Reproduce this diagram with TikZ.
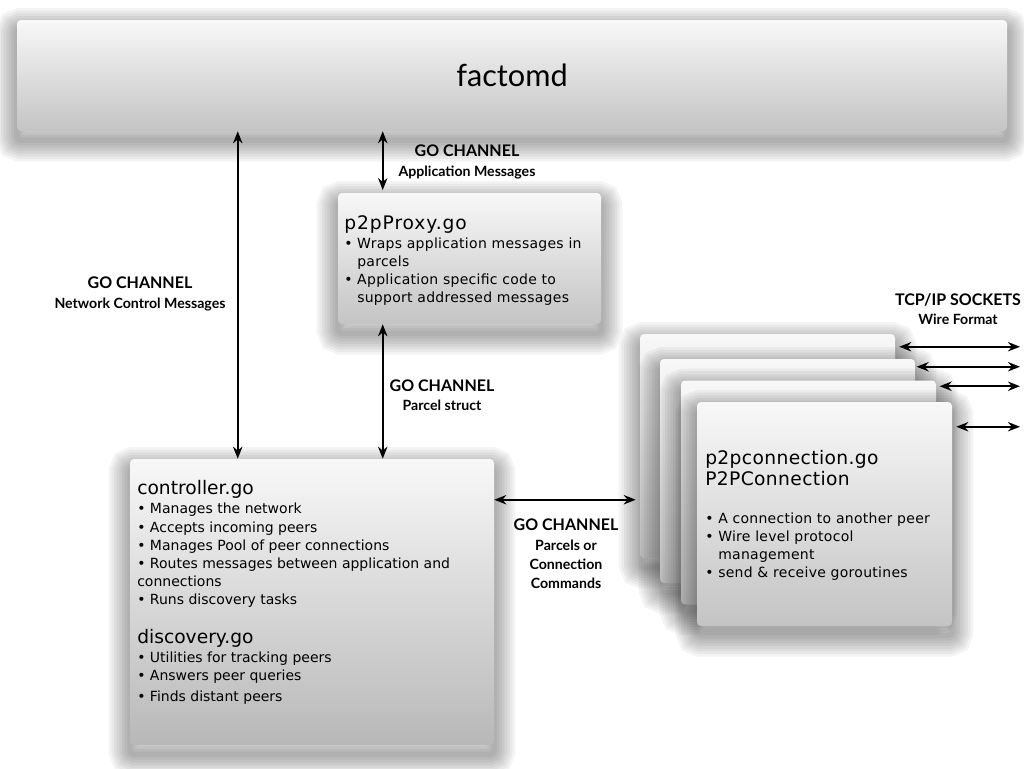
\documentclass[tikz,border=0pt]{standalone}
\usepackage{fontspec}
\setmainfont{DejaVu Sans}
\newfontfamily\labelfont{Lato}
\newfontfamily\trackfont[LetterSpace=2]{DejaVu Sans}
\newfontfamily\titletrack[LetterSpace=5]{DejaVu Sans}
\usetikzlibrary{arrows.meta, positioning}

\definecolor{boxtop}{RGB}{248,248,248}
\definecolor{boxbot}{RGB}{196,196,196}
\definecolor{ctrlbot}{RGB}{184,184,184}

\newcommand{\bul}{\textbullet\ }
\newcommand{\hang}{\hphantom{\textbullet\ }}

\tikzset{
  shadowring/.style = {preaction = {draw = black, draw opacity = 0.045, line width = #1,
    transform canvas = {yshift = -7pt}}},
  softshadow/.style = {shadowring/.list = {32pt, 28pt, 24pt, 20pt, 16pt, 12pt, 8pt, 4pt}},
  box/.style = {rounded corners = 3pt, top color = boxtop, bottom color = boxbot, inner sep = 0pt, softshadow},
  chan/.style = {{Stealth[length = 9pt, width = 7pt]}-{Stealth[length = 9pt, width = 7pt]}, line width = 1.5pt},
  lbl/.style = {font = \labelfont\bfseries\fontsize{10.6}{14.5}\selectfont, align = center, inner sep = 0pt},
  body/.style = {anchor = north west, align = left, inner sep = 0pt, font = \fontsize{10.5}{13.6}\selectfont}
}

\begin{document}
\begin{tikzpicture}[x = 0.75pt, y = -0.75pt]
\fill[white] (0,0) rectangle (1024,768);
\useasboundingbox (0,0) rectangle (1024,768);

% boxes
\node[box, minimum width = 742.5pt, minimum height = 83.25pt] (factomd) at (512,75.5)
  {\labelfont\fontsize{23}{26}\selectfont factomd};
\node[box, minimum width = 197.25pt, minimum height = 98.25pt] (proxy) at (469.5,258.5) {};
\node[box, bottom color = ctrlbot, minimum width = 273pt, minimum height = 214.5pt] (ctrl) at (312,602) {};
\foreach \i/\x/\y in {1/767.5/446, 2/787.5/471, 3/808.5/492.5, 4/824.5/514}
  \node[box, minimum width = 191.25pt, minimum height = 168pt] (conn\i) at (\x,\y) {};

% box texts
\node[body, font = \trackfont\fontsize{10.5}{13.6}\selectfont] (proxytxt) at (344,215)
  {{\titletrack\fontsize{14}{16}\selectfont p2pProxy.go}\\[1pt]
  \bul Wraps application messages in\\ \hang parcels\\
  \bul Application specific code to\\ \hang support addressed messages};
\node[body] (ctrltxt) at (137,480) {{\fontsize{14}{16}\selectfont controller.go}\\[1pt]
  \bul Manages the network\\ \bul Accepts incoming peers\\
  \bul Manages Pool of peer connections\\ \bul Routes messages between application and\\
  connections\\ \bul Runs discovery tasks\\[15.5pt]
  {\fontsize{14}{16}\selectfont discovery.go}\\[1pt]
  \bul Utilities for tracking peers\\ \bul Answers peer queries\\[2pt] \bul Finds distant peers};
\node[body, font = \trackfont\fontsize{10.5}{13.6}\selectfont] (conntxt) at (705,450)
  {{\fontsize{14}{16}\selectfont p2pconnection.go}\\[2.5pt]
  {\fontsize{14}{16}\selectfont P2PConnection}\\[14.5pt]
  \bul A connection to another peer\\ \bul Wire level protocol\\ \hang management\\
  \bul send \& receive goroutines};

% channels
\draw[chan] ([xshift = 81pt]ctrl.north west) coordinate (netend) -- (netend |- factomd.south);
\draw[chan] ([xshift = 33.75pt, yshift = 2pt]proxy.north west) coordinate (append) -- (append |- factomd.south);
\draw[chan] ([xshift = 33.75pt]proxy.south west) coordinate (parend) -- (parend |- ctrl.north);
\draw[chan] ([yshift = -30.75pt]ctrl.north east) coordinate (cmdend) -- ([xshift = -3pt]cmdend -| conn1.west);

% sockets
\coordinate (wire) at (1020,0);
\draw[chan] ([xshift = 3pt, yshift = -9.75pt]conn1.north east) coordinate (s1) -- (s1 -| wire);
\draw[chan] ([xshift = 1pt, yshift = -6pt]conn2.north east) coordinate (s2) -- (s2 -| wire);
\draw[chan] ([xshift = 2.5pt, yshift = -4.5pt]conn3.north east) coordinate (s3) -- (s3 -| wire);
\draw[chan] ([xshift = 3pt, yshift = -18.75pt]conn4.north east) coordinate (s4) -- (s4 -| wire);

% labels
\node[lbl] (lblapp) at (467,162) {{\fontsize{12}{14.5}\selectfont GO CHANNEL}\\Application Messages};
\node[lbl] (lblnet) at (140,294) {{\fontsize{12}{14.5}\selectfont GO CHANNEL}\\Network Control Messages};
\node[lbl] (lblpar) at (442,395) {{\fontsize{12}{14.5}\selectfont GO CHANNEL}\\Parcel struct};
\node[lbl] (lblcmd) at (566,554) {{\fontsize{12}{14.5}\selectfont GO CHANNEL}\\Parcels or\\Connection\\Commands};
\node[lbl] (lblwire) at (958,309) {{\fontsize{12}{14.5}\selectfont TCP/IP SOCKETS}\\Wire Format};
\end{tikzpicture}
\end{document}
